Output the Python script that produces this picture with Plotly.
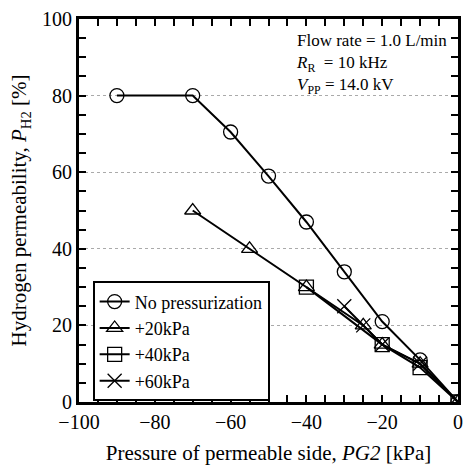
import plotly.graph_objects as go

# data
x_none = [-90, -70, -60, -50, -40, -30, -20, -10, 0]
y_none = [80, 80, 70.5, 59, 47, 34, 21, 11, 0]

x_20 = [-70, -55, -40, -25, -20, -10, 0]
y_20 = [50, 40, 30, 20, 15, 10, 0]

x_40 = [-40, -20, -10, 0]
y_40 = [30, 15, 9, 0]

x_60 = [-30, -25, -20, -10, 0]
y_60 = [25, 20, 15, 10, 0]

series = [
    ('No pressurization', x_none, y_none, 'circle-open'),
    ('+20kPa', x_20, y_20, 'triangle-up-open'),
    ('+40kPa', x_40, y_40, 'square-open'),
    ('+60kPa', x_60, y_60, 'x-thin-open'),
]

font = 'Liberation Serif'

fig = go.Figure()
for name, xs, ys, sym in series:
    fig.add_trace(go.Scatter(
        x=xs, y=ys, name=name, mode='lines+markers',
        line={'color': 'black', 'width': 2},
        marker={'symbol': sym, 'size': 14, 'color': 'black',
                'line': {'width': 1.3, 'color': 'black'}},
    ))

fig.update_xaxes(
    range=[-100, 0], tick0=0, dtick=20, showgrid=False,
    showline=True, linecolor='black', linewidth=3, mirror='allticks',
    ticks='inside', ticklen=7, tickwidth=2, tickcolor='black',
    minor=dict(ticks='inside', ticklen=7, tickwidth=2, tickcolor='black', dtick=5),
    zeroline=False,
    tickfont=dict(size=20, color='black', family=font),
    title=dict(text='Pressure of permeable side, <i>PG2</i> [kPa]',
               font=dict(size=21, color='black', family=font), standoff=14),
)
fig.update_yaxes(
    range=[0, 100], tick0=0, dtick=20, showgrid=True, gridcolor='#aaaaaa',
    griddash='dot', gridwidth=1,
    showline=True, linecolor='black', linewidth=3, mirror='allticks',
    ticks='inside', ticklen=7, tickwidth=2, tickcolor='black',
    minor=dict(ticks='inside', ticklen=7, tickwidth=2, tickcolor='black', dtick=5),
    zeroline=False,
    tickfont=dict(size=20, color='black', family=font),
    title=dict(text='Hydrogen permeability, <i>P</i><sub>H2</sub> [%]',
               font=dict(size=21, color='black', family=font), standoff=10),
)

fig.add_annotation(
    x=0.975, y=0.975, xref='paper', yref='paper', xanchor='right', yanchor='top',
    align='left', showarrow=False,
    text='Flow rate = 1.0 L/min<br><i>R</i><sub>R</sub>  = 10 kHz<br><i>V</i><sub>PP</sub> = 14.0 kV',
    font=dict(size=17, color='black', family=font),
)

fig.update_layout(
    width=471, height=470,
    margin=dict(l=79, r=8, t=19, b=64),
    plot_bgcolor='white', paper_bgcolor='white',
    font=dict(family=font, color='black'),
    showlegend=True,
    legend=dict(x=0.036, y=0.315, xanchor='left', yanchor='top',
                bgcolor='white', bordercolor='black', borderwidth=2,
                font=dict(size=18, color='black', family=font),
                tracegroupgap=0, itemwidth=30),
)

fig.write_html('out.html', config={'displayModeBar': False},
               post_script="document.body.style.margin='0';")
